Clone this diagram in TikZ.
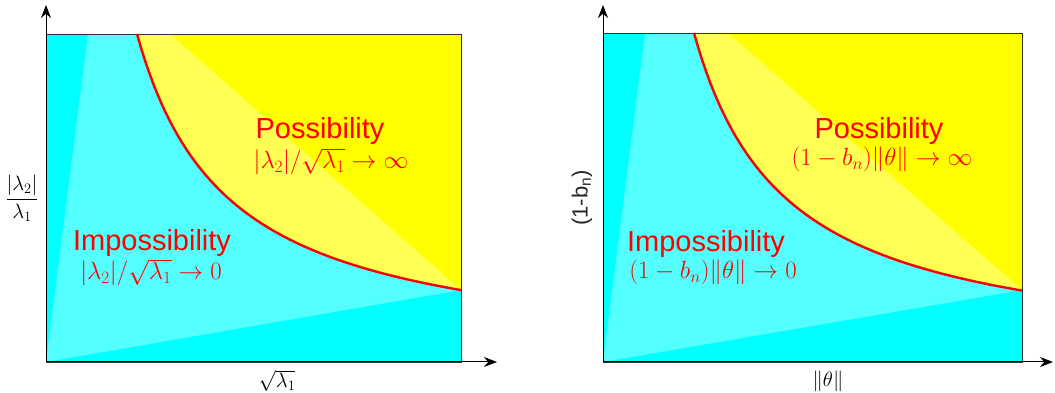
\documentclass[tikz,border=0pt]{standalone}
\usepackage{fontspec}
\setsansfont{Liberation Sans}
\usetikzlibrary{arrows.meta, positioning}

\definecolor{lowcyan}{rgb}{0,1,1}
\definecolor{highyellow}{rgb}{1,1,0}
\definecolor{boundred}{rgb}{1,0,0}

\begin{document}
\begin{tikzpicture}[
    x=1pt, y=1pt,
    axis/.style={-{Stealth[length=13pt, width=10pt]}, line width=1pt},
    frame/.style={draw=black!80, line width=0.7pt},
    bound/.style={draw=boundred, line width=2.4pt},
    lighten/.style={fill=white, opacity=0.33},
    region/.style={text=boundred, anchor=base, inner sep=0pt, font=\sffamily\fontsize{29}{30}\selectfont},
    cond/.style={text=boundred, anchor=base, inner sep=0pt, font=\fontsize{23}{24}\selectfont},
    axlabel/.style={inner sep=1pt, font=\fontsize{22}{24}\selectfont}
]
\useasboundingbox (0,0) rectangle (1055,393);

% Left panel
\begin{scope}[shift={(46,31)}]
\coordinate (oL) at (0,0);
\coordinate (yL) at (0,357);
\coordinate (xL) at (451,0);
\fill[lowcyan] (0,0) rectangle (415,328);
\fill[highyellow] (91,328) -- plot[domain=91:415, samples=80] (\x,{298.48/\x*100}) -- (415,328) -- cycle;
\fill[lighten] (0,0) -- (42,328) -- (124,328) -- (415,72) -- cycle;
\draw[frame] (0,0) rectangle (415,328);
\draw[bound] plot[domain=91:415, samples=80] (\x,{298.48/\x*100});
\draw[axis] (oL) -- (yL);
\draw[axis] (oL) -- (xL);

\node[region] (possL) at (274,223) {Possibility};
\node[cond] (possLcond) at (285,193) {$|\lambda_2|/\sqrt{\lambda_1}\to\infty$};
\node[region] (impL) at (106,111) {Impossibility};
\node[cond] (impLcond) at (105,82) {$|\lambda_2|/\sqrt{\lambda_1}\to 0$};
\node[axlabel] (ylabL) at (-24,164) {$\displaystyle\frac{|\lambda_2|}{\lambda_1}$};
\node[axlabel] (xlabL) at (231,-19) {$\sqrt{\lambda_1}$};
\end{scope}

% Right panel
\begin{scope}[shift={(603,31)}]
\coordinate (oR) at (0,0);
\coordinate (yR) at (0,357);
\coordinate (xR) at (450,0);
\fill[lowcyan] (0,0) rectangle (419,329);
\fill[highyellow] (91,329) -- plot[domain=91:419, samples=80] (\x,{299.39/\x*100}) -- (419,329) -- cycle;
\fill[lighten] (0,0) -- (42,329) -- (125,329) -- (419,72) -- cycle;
\draw[frame] (0,0) rectangle (419,329);
\draw[bound] plot[domain=91:419, samples=80] (\x,{299.39/\x*100});
\draw[axis] (oR) -- (yR);
\draw[axis] (oR) -- (xR);

\node[region] (possR) at (276,223) {Possibility};
\node[cond] (possRcond) at (279,196) {$(1-b_n)\|\theta\|\to\infty$};
\node[region] (impR) at (103,110) {Impossibility};
\node[cond] (impRcond) at (110,83) {$(1-b_n)\|\theta\|\to 0$};
\node[axlabel, font=\sffamily\fontsize{22}{24}\selectfont, text=black!85, rotate=90] (ylabR) at (-21,164) {(1-b\textsubscript{n})};
\node[axlabel] (xlabR) at (225,-19) {$\|\theta\|$};
\end{scope}

\end{tikzpicture}
\end{document}
